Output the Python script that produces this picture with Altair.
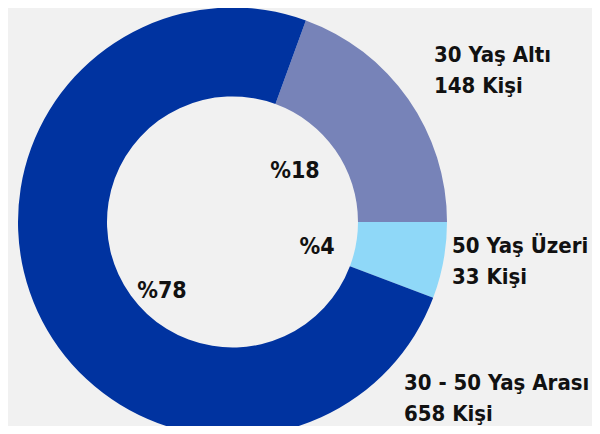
import math
import altair as alt
import pandas as pd

# ---- data ----
groups = ["30 Yaş Altı", "50 Yaş Üzeri", "30 - 50 Yaş Arası"]
people = [148, 33, 658]
pct_labels = ["%18", "%4", "%78"]
drawn_share_deg = [70.0, 20.7, 269.3]   # slice sweeps as drawn in the reference
colors = ["#7783b8", "#8fd8f8", "#0033a0"]

df = pd.DataFrame({
    "group": groups,
    "people": people,
    "pct": pct_labels,
    "share": drawn_share_deg,
    "order": list(range(len(groups))),
})

W, H = 584, 418
CX, CY = 224.5, 214
R_OUT, R_IN = 214.5, 125.5
START = math.radians(20)
FONT = "DejaVu Sans Condensed, DejaVu Sans, sans-serif"
INK = "#111111"

base = alt.Chart(df)

ring = base.mark_arc(outerRadius=R_OUT, innerRadius=R_IN).encode(
    theta=alt.Theta("share:Q", stack=True,
                    scale=alt.Scale(range=[START, START + 2 * math.pi])),
    color=alt.Color("group:N", scale=alt.Scale(domain=groups, range=colors), legend=None),
    order=alt.Order("order:Q"),
    x=alt.value(CX),
    y=alt.value(CY),
)


def outer_label(i, x, y):
    return (
        base.transform_filter(alt.datum.group == groups[i])
        .transform_calculate(lines="[datum.group, datum.people + ' Kişi']")
        .mark_text(align="left", baseline="alphabetic", font=FONT, fontWeight="bold",
                   fontSize=22, lineHeight=31, color=INK, x=x, y=y)
        .encode(text=alt.Text("lines:N"))
    )


def pct_label(i, x, y):
    return (
        base.transform_filter(alt.datum.group == groups[i])
        .mark_text(align="center", baseline="alphabetic", font=FONT, fontWeight="bold",
                   fontSize=23, color=INK, x=x, y=y)
        .encode(text=alt.Text("pct:N"))
    )


chart = alt.layer(
    ring,
    outer_label(0, 426, 54),
    outer_label(1, 444, 245),
    outer_label(2, 396, 382),
    pct_label(0, 287, 170),
    pct_label(1, 309, 246),
    pct_label(2, 154, 289.5),
).properties(
    width=W, height=H,
    autosize=alt.AutoSizeParams(type="none"),
    padding=0,
    background="#f1f1f1",
).configure_view(stroke=None)

chart.save("out.html", embed_options={"renderer": "svg", "actions": False})
